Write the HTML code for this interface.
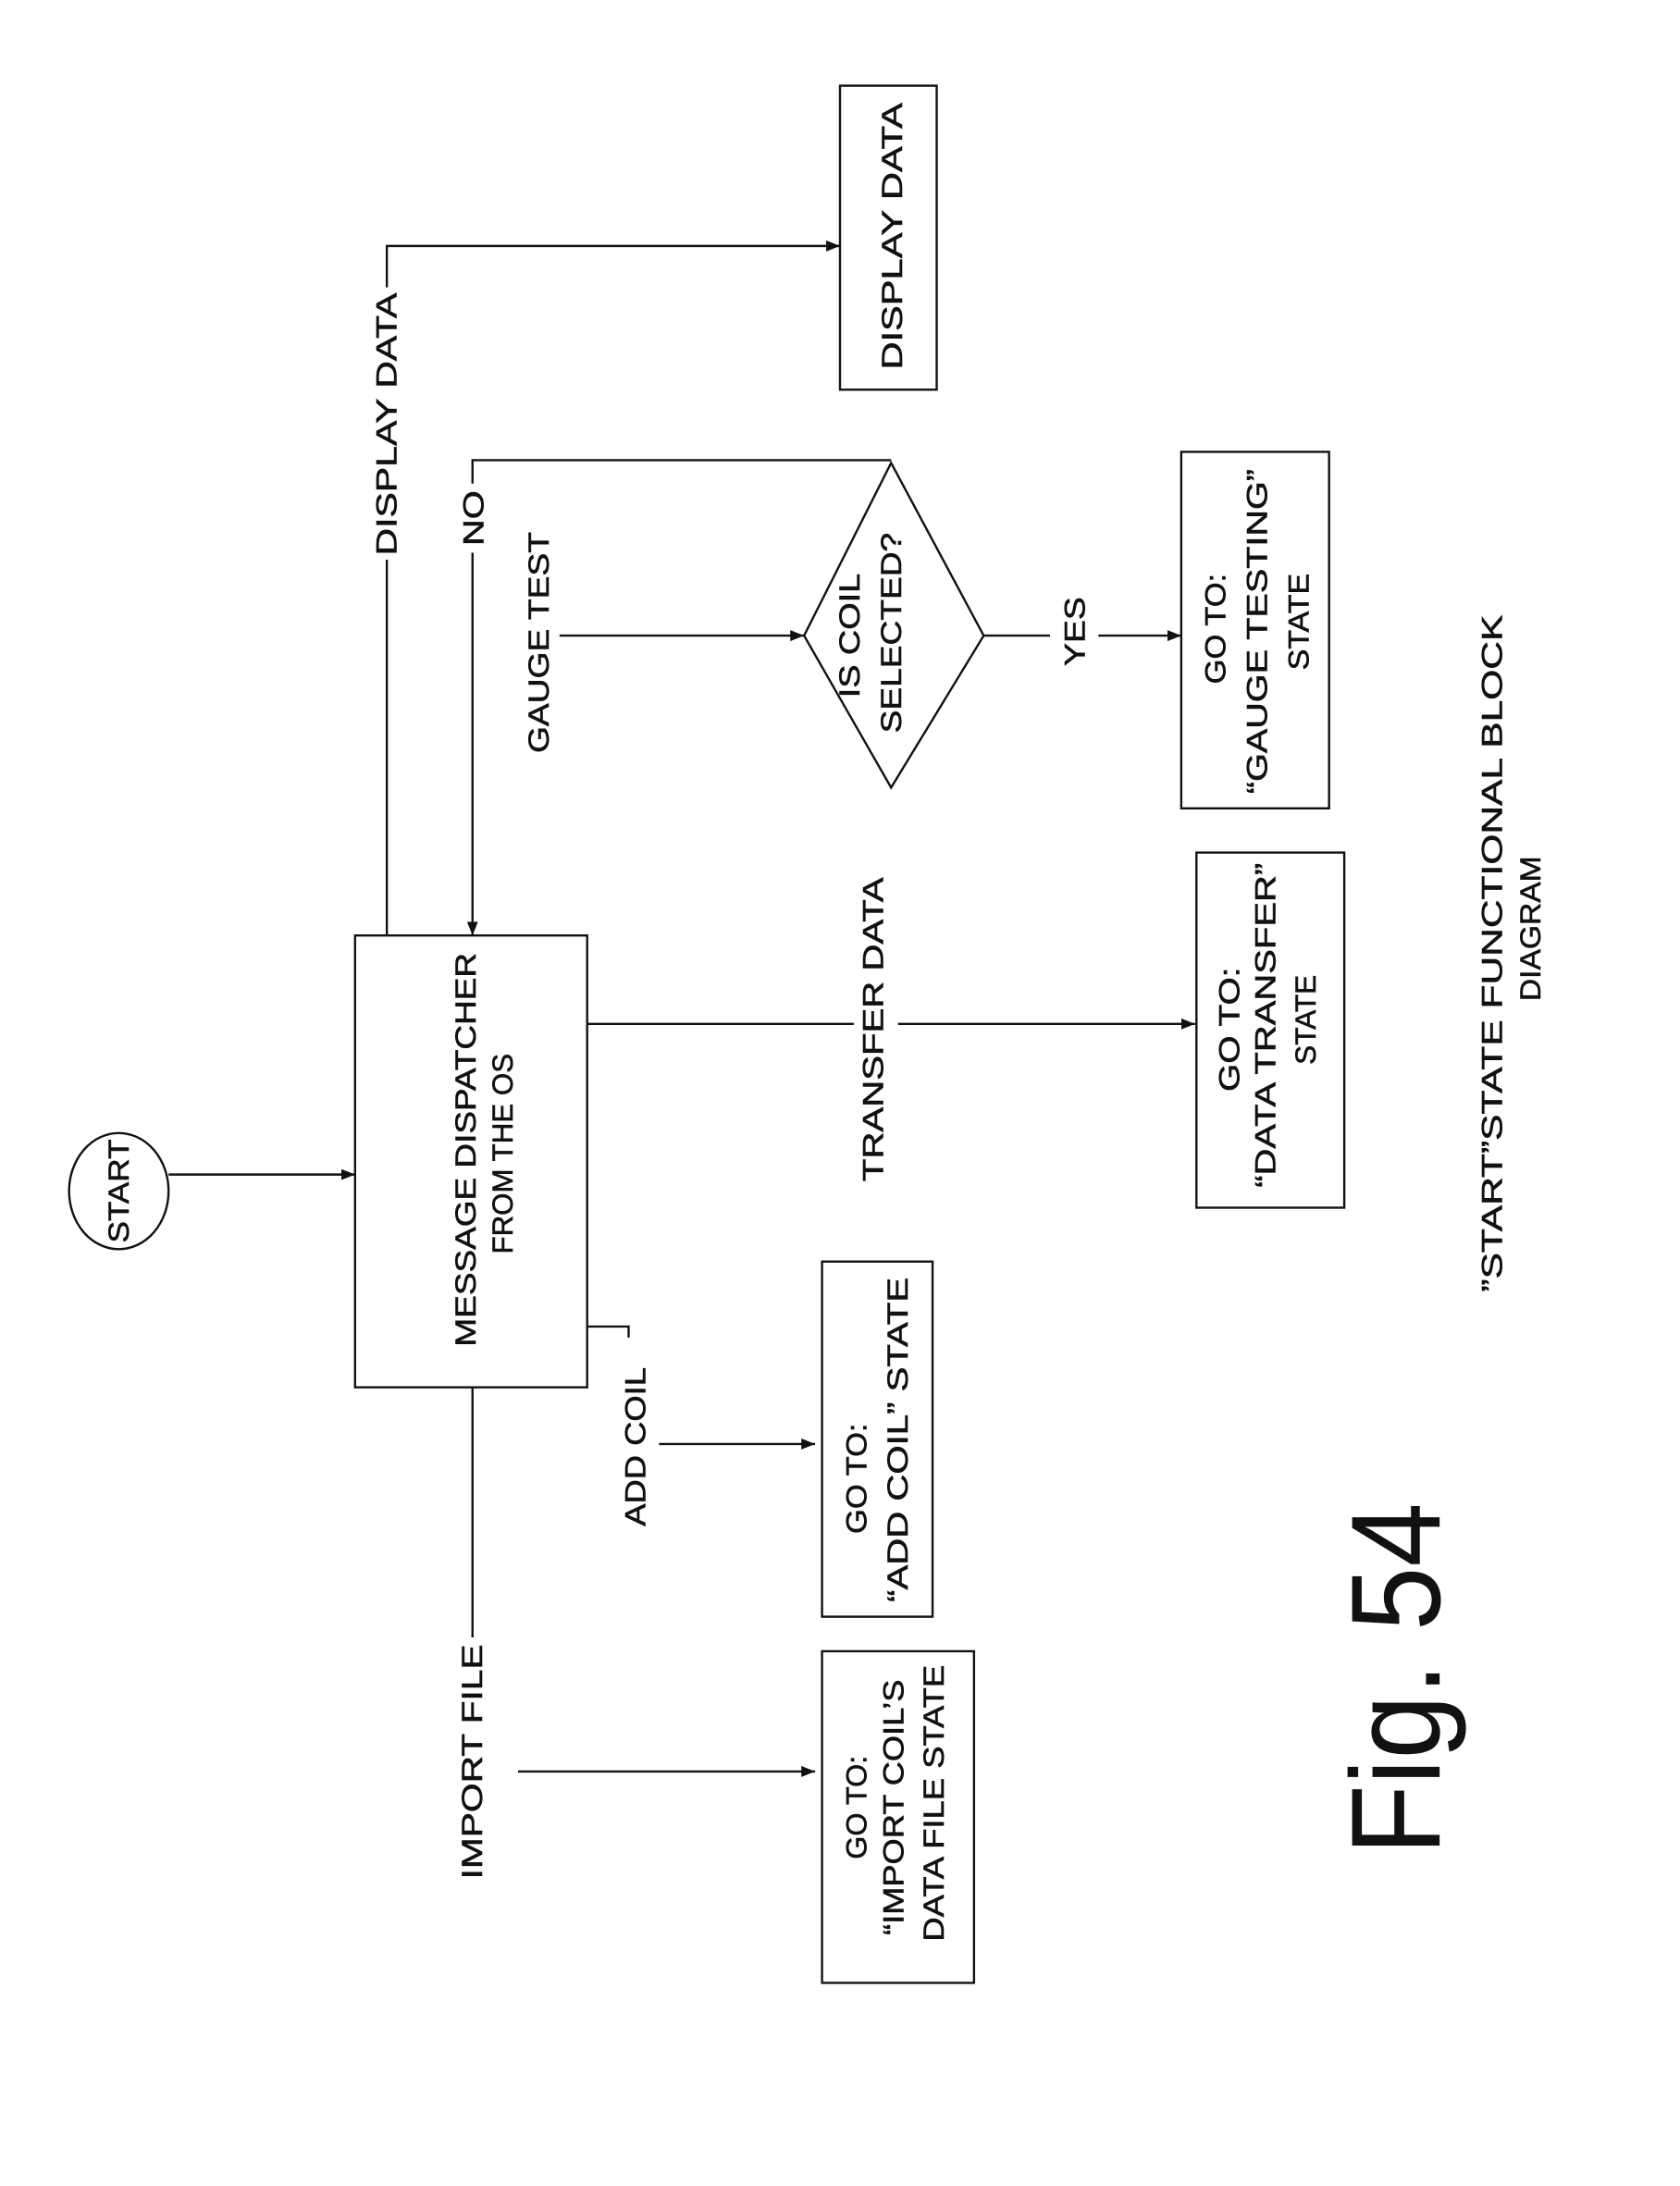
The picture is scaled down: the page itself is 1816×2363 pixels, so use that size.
<!DOCTYPE html>
<html><head><meta charset="utf-8"><style>
html,body{margin:0;padding:0;background:#fff;}
svg{display:block;}
text{font-family:"Liberation Sans",sans-serif;fill:#111;}
</style></head><body>
<svg width="1816" height="2363" viewBox="0 0 1216 1582" preserveAspectRatio="none" xmlns="http://www.w3.org/2000/svg">
<defs><marker id="a" markerWidth="10" markerHeight="8" refX="10" refY="4" orient="auto" markerUnits="userSpaceOnUse"><path d="M0,0 L10,4 L0,8 z" fill="#111"/></marker></defs>
<g stroke="#111" stroke-width="1.6" fill="none">
<ellipse cx="86" cy="862" rx="36" ry="42"/>
<line x1="122" y1="850" x2="257" y2="850" marker-end="url(#a)"/>
<rect x="257" y="677" width="168" height="327"/>
<polyline points="280,677 280,405"/>
<polyline points="280,208 280,178 608,178" marker-end="url(#a)"/>
<rect x="608" y="62" width="70" height="220"/>
<polyline points="645,333 342,333 342,350"/>
<line x1="342" y1="400" x2="342" y2="677" marker-end="url(#a)"/>
<polygon points="645,335 712,460 645,570 582,460"/>
<line x1="405" y1="460" x2="582" y2="460" marker-end="url(#a)"/>
<line x1="712" y1="460" x2="760" y2="460"/>
<line x1="795" y1="460" x2="855" y2="460" marker-end="url(#a)"/>
<rect x="855" y="327" width="107" height="258"/>
<line x1="425" y1="741" x2="618" y2="741"/>
<line x1="650" y1="741" x2="865" y2="741" marker-end="url(#a)"/>
<rect x="866" y="617" width="107" height="257"/>
<polyline points="425,960 455,960 455,968"/>
<line x1="477" y1="1045" x2="590" y2="1045" marker-end="url(#a)"/>
<rect x="595" y="913" width="80" height="257"/>
<line x1="342" y1="1004" x2="342" y2="1185"/>
<line x1="375" y1="1282" x2="590" y2="1282" marker-end="url(#a)"/>
<rect x="595" y="1195" width="110" height="240"/>
</g>
<g font-size="21" dominant-baseline="central" text-anchor="middle" stroke="#111" stroke-width="0.4">
<text transform="translate(86,862) rotate(-90)" textLength="75" lengthAdjust="spacingAndGlyphs">START</text>
<text transform="translate(337,832) rotate(-90)" textLength="285" lengthAdjust="spacingAndGlyphs">MESSAGE DISPATCHER</text>
<text transform="translate(364,835) rotate(-90)" textLength="145" lengthAdjust="spacingAndGlyphs">FROM THE OS</text>
<text transform="translate(280,307) rotate(-90)" textLength="190" lengthAdjust="spacingAndGlyphs">DISPLAY DATA</text>
<text transform="translate(646,171) rotate(-90)" textLength="193" lengthAdjust="spacingAndGlyphs">DISPLAY DATA</text>
<text transform="translate(343,375) rotate(-90)" textLength="40" lengthAdjust="spacingAndGlyphs">NO</text>
<text transform="translate(390,465) rotate(-90)" textLength="160" lengthAdjust="spacingAndGlyphs">GAUGE TEST</text>
<text transform="translate(615,460) rotate(-90)" textLength="90" lengthAdjust="spacingAndGlyphs">IS COIL</text>
<text transform="translate(645,458) rotate(-90)" textLength="145" lengthAdjust="spacingAndGlyphs">SELECTED?</text>
<text transform="translate(778,457) rotate(-90)" textLength="50" lengthAdjust="spacingAndGlyphs">YES</text>
<text transform="translate(880,455) rotate(-90)" textLength="80" lengthAdjust="spacingAndGlyphs">GO TO:</text>
<text transform="translate(910,457) rotate(-90)" textLength="235" lengthAdjust="spacingAndGlyphs">“GAUGE TESTING”</text>
<text transform="translate(940,450) rotate(-90)" textLength="70" lengthAdjust="spacingAndGlyphs">STATE</text>
<text transform="translate(632,745) rotate(-90)" textLength="220" lengthAdjust="spacingAndGlyphs">TRANSFER DATA</text>
<text transform="translate(890,745) rotate(-90)" textLength="90" lengthAdjust="spacingAndGlyphs">GO TO:</text>
<text transform="translate(916,742) rotate(-90)" textLength="235" lengthAdjust="spacingAndGlyphs">“DATA TRANSFER”</text>
<text transform="translate(945,738) rotate(-90)" textLength="65" lengthAdjust="spacingAndGlyphs">STATE</text>
<text transform="translate(460,1047) rotate(-90)" textLength="115" lengthAdjust="spacingAndGlyphs">ADD COIL</text>
<text transform="translate(620,1070) rotate(-90)" textLength="80" lengthAdjust="spacingAndGlyphs">GO TO:</text>
<text transform="translate(650,1042) rotate(-90)" textLength="235" lengthAdjust="spacingAndGlyphs">“ADD COIL” STATE</text>
<text transform="translate(342,1275) rotate(-90)" textLength="170" lengthAdjust="spacingAndGlyphs">IMPORT FILE</text>
<text transform="translate(620,1308) rotate(-90)" textLength="75" lengthAdjust="spacingAndGlyphs">GO TO:</text>
<text transform="translate(647,1308) rotate(-90)" textLength="185" lengthAdjust="spacingAndGlyphs">“IMPORT COIL’S</text>
<text transform="translate(676,1305) rotate(-90)" textLength="200" lengthAdjust="spacingAndGlyphs">DATA FILE STATE</text>
<text transform="translate(1080,690) rotate(-90)" textLength="490" lengthAdjust="spacingAndGlyphs">”START”STATE FUNCTIONAL BLOCK</text>
<text transform="translate(1108,672) rotate(-90)" textLength="105" lengthAdjust="spacingAndGlyphs">DIAGRAM</text>
</g>
<text transform="translate(1042,1215) rotate(-90)" font-size="92" text-anchor="middle" textLength="255" lengthAdjust="spacingAndGlyphs">Fig. 54</text>
</svg>
</body></html>
